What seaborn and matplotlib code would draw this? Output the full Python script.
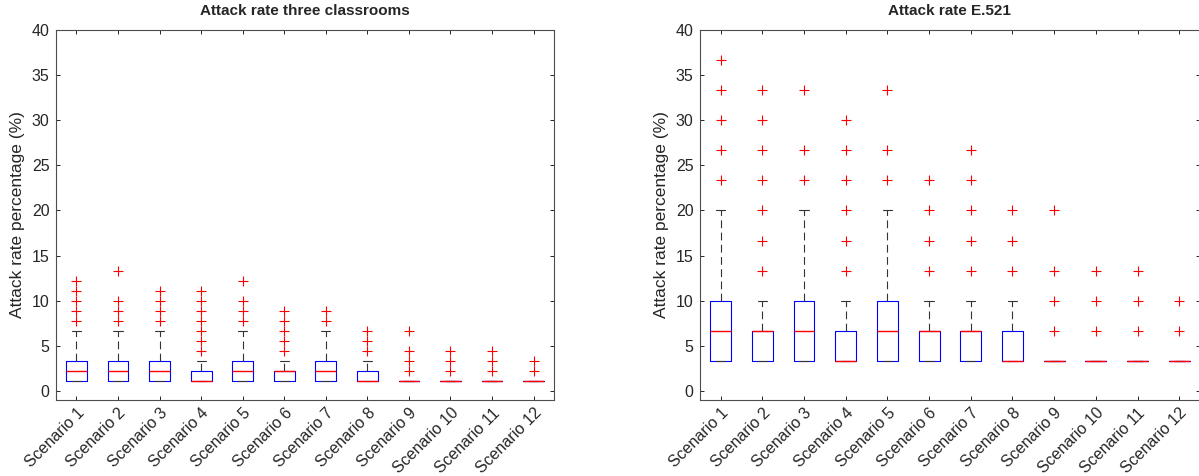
import matplotlib
matplotlib.use('Agg')
import matplotlib.pyplot as plt
import seaborn as sns

# ------------------------------------------------------------
# DATA
# ------------------------------------------------------------
scenarios = [f'Scenario {i}' for i in range(1, 13)]

# Attack rate three classrooms
cls_q1 = [1.11, 1.11, 1.11, 1.11, 1.11, 1.11, 1.11, 1.11, 1.11, 1.11, 1.11, 1.11]
cls_med = [2.22, 2.22, 2.22, 1.11, 2.22, 2.22, 2.22, 1.11, 1.11, 1.11, 1.11, 1.11]
cls_q3 = [3.33, 3.33, 3.33, 2.22, 3.33, 2.22, 3.33, 2.22, 1.11, 1.11, 1.11, 1.11]
cls_whislo = [1.11, 1.11, 1.11, 1.11, 1.11, 1.11, 1.11, 1.11, 1.11, 1.11, 1.11, 1.11]
cls_whishi = [6.67, 6.67, 6.67, 3.33, 6.67, 3.33, 6.67, 3.33, 1.11, 1.11, 1.11, 1.11]
cls_fliers = [
    [7.78, 8.89, 10.0, 11.11, 12.22],
    [7.78, 8.89, 10.0, 13.33],
    [7.78, 8.89, 10.0, 11.11],
    [4.44, 5.56, 6.67, 7.78, 8.89, 10.0, 11.11],
    [7.78, 8.89, 10.0, 12.22],
    [4.44, 5.56, 6.67, 7.78, 8.89],
    [7.78, 8.89],
    [4.44, 5.56, 6.67],
    [2.22, 3.33, 4.44, 6.67],
    [2.22, 3.33, 4.44],
    [2.22, 3.33, 4.44],
    [2.22, 3.33],
]

# Attack rate E.521
e521_q1 = [3.33, 3.33, 3.33, 3.33, 3.33, 3.33, 3.33, 3.33, 3.33, 3.33, 3.33, 3.33]
e521_med = [6.67, 6.67, 6.67, 3.33, 6.67, 6.67, 6.67, 3.33, 3.33, 3.33, 3.33, 3.33]
e521_q3 = [10.0, 6.67, 10.0, 6.67, 10.0, 6.67, 6.67, 6.67, 3.33, 3.33, 3.33, 3.33]
e521_whislo = [3.33, 3.33, 3.33, 3.33, 3.33, 3.33, 3.33, 3.33, 3.33, 3.33, 3.33, 3.33]
e521_whishi = [20.0, 10.0, 20.0, 10.0, 20.0, 10.0, 10.0, 10.0, 3.33, 3.33, 3.33, 3.33]
e521_fliers = [
    [23.33, 26.67, 30.0, 33.33, 36.67],
    [13.33, 16.67, 20.0, 23.33, 26.67, 30.0, 33.33],
    [23.33, 26.67, 33.33],
    [13.33, 16.67, 20.0, 23.33, 26.67, 30.0],
    [23.33, 26.67, 33.33],
    [13.33, 16.67, 20.0, 23.33],
    [13.33, 16.67, 20.0, 23.33, 26.67],
    [13.33, 16.67, 20.0],
    [6.67, 10.0, 13.33, 20.0],
    [6.67, 10.0, 13.33],
    [6.67, 10.0, 13.33],
    [6.67, 10.0],
]


def build_stats(q1, med, q3, whislo, whishi, fliers):
    """Turn the separate lists into the dicts ax.bxp expects."""
    return [dict(q1=a, med=m, q3=b, whislo=lo, whishi=hi, fliers=f)
            for a, m, b, lo, hi, f in zip(q1, med, q3, whislo, whishi, fliers)]


def draw_panel(ax, stats, title):
    ax.bxp(stats, widths=0.5, showfliers=True,
           boxprops=dict(color='#0000ff', linewidth=0.8, zorder=2),
           medianprops=dict(color='#ff0000', linewidth=1.0, zorder=4),
           whiskerprops=dict(color='#333333', linewidth=0.8, linestyle=(0, (7, 4))),
           capprops=dict(color='#333333', linewidth=0.8),
           capwidths=0.22,
           flierprops=dict(marker='+', markeredgecolor='#ff0000', markersize=7,
                           markeredgewidth=0.8, linestyle='none'))
    ax.set_xlim(0.5, 12.5)
    ax.set_ylim(-1, 40)
    ax.set_yticks(range(0, 41, 5))
    ax.set_xticks(range(1, 13))
    ax.set_xticklabels(scenarios, rotation=45, ha='right', rotation_mode='anchor')
    ax.set_ylabel('Attack rate percentage (%)', fontsize=12.5, color='#262626', labelpad=5)
    ax.set_title(title, fontsize=11, fontweight='bold', pad=10.5)
    ax.tick_params(direction='in', top=True, right=True, length=3, width=0.7,
                   colors='#262626', labelsize=11.5, pad=4.5)
    ax.tick_params(axis='x', pad=4, labelsize=11.5)
    for s in ax.spines.values():
        s.set_color('#4d4d4d')
        s.set_linewidth(0.8)


sns.set_style('ticks')
plt.rcParams['font.family'] = ['Liberation Sans', 'DejaVu Sans']

fig = plt.figure(figsize=(11.99, 4.76), dpi=100)
ax1 = fig.add_axes([0.04646, 0.1597, 0.4159, 0.7773])
ax2 = fig.add_axes([0.58357, 0.1597, 0.4174, 0.7773])

draw_panel(ax1, build_stats(cls_q1, cls_med, cls_q3, cls_whislo, cls_whishi, cls_fliers),
           'Attack rate three classrooms')
draw_panel(ax2, build_stats(e521_q1, e521_med, e521_q3, e521_whislo, e521_whishi, e521_fliers),
           'Attack rate E.521')

fig.savefig('out.png', dpi=100)
plt.close(fig)
